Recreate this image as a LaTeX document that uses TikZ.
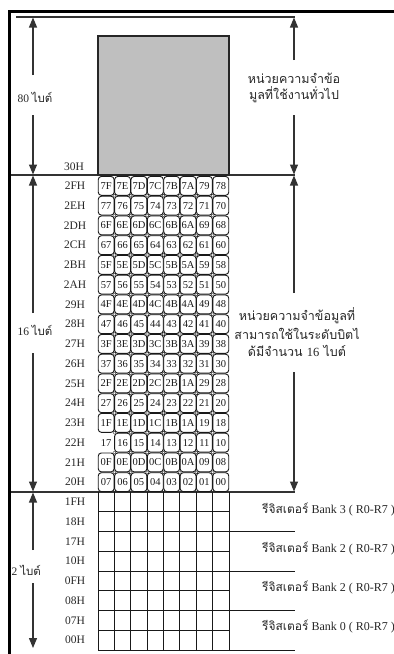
\documentclass[tikz,border=0pt]{standalone}
\usepackage{fontspec}
\setmainfont{Liberation Serif}
\newfontfamily\thaifont[Script=Thai]{Loma}
\usetikzlibrary{arrows.meta}
\newcommand\thx[1]{{\thaifont #1}}
\begin{document}
\begin{tikzpicture}[x=1pt,y=-1pt,
  dim/.style={draw=black!80, line width=1.2pt, -{Triangle[length=10pt,width=8pt]}},
  hline/.style={draw=black!80, line width=1.2pt},
  gridl/.style={draw=black!90, line width=1pt},
  rowlab/.style={font=\fontsize{11.5}{12}\selectfont, text=black!85, inner sep=0},
  cellbox/.style={draw=black!90, rounded corners=3pt, line width=0.9pt, minimum width=15.8pt, minimum height=18.8pt, inner sep=0, font=\fontsize{10.5}{11}\selectfont, text=black!90},
  nobox/.style={cellbox, draw=none},
  cdot/.style={circle, draw=black!70, fill=white, inner sep=0, minimum size=3pt, line width=0.5pt},
  thai/.style={font=\thaifont\fontsize{12.5}{14}\selectfont, align=center, inner sep=0, text=black!85},
  lefttxt/.style={font=\fontsize{11.5}{13}\selectfont, inner sep=0, text=black!85},
  regtxt/.style={font=\fontsize{12}{14}\selectfont, inner sep=0, text=black!85, anchor=west}
]
\useasboundingbox (0,0) rectangle (394,654);
% frame
\draw[line width=3pt] (9.5,654) -- (9.5,11) -- (394,11);
% horizontal lines
\coordinate (tl) at (16,17);   \coordinate (tr) at (295,17);
\coordinate (ml) at (11,175);  \coordinate (mr) at (295,175);
\coordinate (bl) at (11,492);  \coordinate (br) at (295,492);
\draw[hline] (tl) -- (tr);
\draw[hline] (ml) -- (mr);
\draw[hline] (bl) -- (br);
% gray general area
\node[draw=black!85, line width=1.1pt, fill=black!25, minimum width=131pt, minimum height=139pt, inner sep=0] (gen) at (163.5,105.5) {};
% left dimension arrows
\coordinate (a1) at (33,75);  \coordinate (a1t) at (33,17.5);
\coordinate (a2) at (33,115); \coordinate (a2t) at (33,174.5);
\draw[dim] (a1) -- (a1t); \draw[dim] (a2) -- (a2t);
\node[lefttxt] (l80) at (35,97) {80 \thx{ไบต์}};
\coordinate (b1) at (33,313); \coordinate (b1t) at (33,175.5);
\coordinate (b2) at (33,353); \coordinate (b2t) at (33,491.5);
\draw[dim] (b1) -- (b1t); \draw[dim] (b2) -- (b2t);
\node[lefttxt] (l16) at (35,330) {16 \thx{ไบต์}};
\coordinate (c1) at (33,550); \coordinate (c1t) at (33,492.5);
\coordinate (c2) at (33,583); \coordinate (c2t) at (33,648);
\draw[dim] (c1) -- (c1t); \draw[dim] (c2) -- (c2t);
\node[lefttxt, anchor=west] (l2) at (11.5,570) {2 \thx{ไบต์}};
% right dimension arrows
\coordinate (r1) at (294,60);  \coordinate (r1t) at (294,17.5);
\coordinate (r2) at (294,115); \coordinate (r2t) at (294,174.5);
\draw[dim] (r1) -- (r1t); \draw[dim] (r2) -- (r2t);
\node[thai] (gtxt) at (294,88) {หน่วยความจำข้อ\\[2pt]มูลที่ใช้งานทั่วไป};
\coordinate (s1) at (294,293); \coordinate (s1t) at (294,175.5);
\coordinate (s2) at (294,372); \coordinate (s2t) at (294,491.5);
\draw[dim] (s1) -- (s1t); \draw[dim] (s2) -- (s2t);
\node[thai] (btxt) at (297,332) {หน่วยความจำข้อมูลที่\\[3pt]สามารถใช้ในระดับบิตไ\\[3pt]ด้มีจำนวน {\rmfamily 16} ไบต์};
\node[rowlab] (h30) at (74,167) {30H};
% bit addressable cells
\foreach \lab/\vals [count=\r from 0] in {
 2FH/{7F,7E,7D,7C,7B,7A,79,78},
 2EH/{77,76,75,74,73,72,71,70},
 2DH/{6F,6E,6D,6C,6B,6A,69,68},
 2CH/{67,66,65,64,63,62,61,60},
 2BH/{5F,5E,5D,5C,5B,5A,59,58},
 2AH/{57,56,55,54,53,52,51,50},
 29H/{4F,4E,4D,4C,4B,4A,49,48},
 28H/{47,46,45,44,43,42,41,40},
 27H/{3F,3E,3D,3C,3B,3A,39,38},
 26H/{37,36,35,34,33,32,31,30},
 25H/{2F,2E,2D,2C,2B,1A,29,28},
 24H/{27,26,25,24,23,22,21,20},
 23H/{1F,1E,1D,1C,1B,1A,19,18},
 22H/{17,16,15,14,13,12,11,10},
 21H/{0F,0E,0D,0C,0B,0A,09,08},
 20H/{07,06,05,04,03,02,01,00}} {
  \node[rowlab] (rl\r) at (75,{185.9+19.75*\r}) {\lab};
  \foreach \v [count=\c from 0] in \vals {
    \pgfmathsetmacro\cx{106.19+16.375*\c}
    \pgfmathsetmacro\cy{185.9+19.75*\r}
    \ifnum\r=13 \ifnum\c=0
      \node[nobox] (b\r-\c) at (\cx,\cy) {\v};
    \else
      \node[cellbox] (b\r-\c) at (\cx,\cy) {\v};
    \fi\else
      \node[cellbox] (b\r-\c) at (\cx,\cy) {\v};
    \fi
  }
}
\foreach \r in {1,...,15} \foreach \c in {1,...,7}
  \node[cdot] at ({98+16.375*\c},{176+19.75*\r}) {};
% register bank grid
\foreach \c in {0,...,8} \draw[gridl] ({98+16.375*\c},492) -- ({98+16.375*\c},650);
\foreach \r in {1,...,7} \draw[gridl] (98,{492+19.75*\r}) -- (229,{492+19.75*\r});
\coordinate (g0) at (98,650); \coordinate (g1) at (295,650);
\draw[gridl] (g0) -- (g1);
\foreach \y in {531.5,571,610.5} \draw[gridl] (229,\y) -- (295,\y);
\foreach \lab [count=\r from 0] in {1FH,18H,17H,10H,0FH,08H,07H,00H}
  \node[rowlab] (q\r) at (75,{501.9+19.75*\r}) {\lab};
\node[regtxt] (rg3) at (262,510) {\thx{รีจิสเตอร์} Bank 3 ( R0-R7 )};
\node[regtxt] (rg2) at (262,549) {\thx{รีจิสเตอร์} Bank 2 ( R0-R7 )};
\node[regtxt] (rg1) at (262,588) {\thx{รีจิสเตอร์} Bank 2 ( R0-R7 )};
\node[regtxt] (rg0) at (262,627) {\thx{รีจิสเตอร์} Bank 0 ( R0-R7 )};
\end{tikzpicture}
\end{document}
